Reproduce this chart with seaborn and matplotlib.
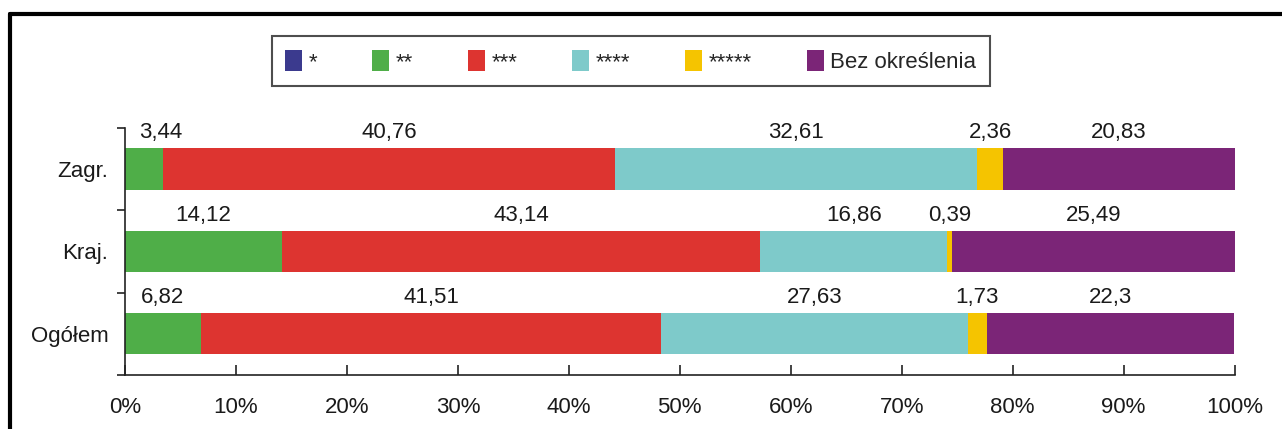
import matplotlib
matplotlib.use("Agg")
import matplotlib.pyplot as plt
import seaborn as sns
import pandas as pd
import numpy as np
from matplotlib.patches import Patch
from matplotlib.lines import Line2D

sns.set_style("white")
plt.rcParams['font.family'] = ['Liberation Sans', 'DejaVu Sans']

categories = ["Zagr.", "Kraj.", "Ogółem"]
series_names = ["*", "**", "***", "****", "*****", "Bez określenia"]
s1 = [0.0, 0.0, 0.0]
s2 = [3.44, 14.12, 6.82]
s3 = [40.76, 43.14, 41.51]
s4 = [32.61, 16.86, 27.63]
s5 = [2.36, 0.39, 1.73]
s6 = [20.83, 25.49, 22.3]
label_texts = [
    [None, "3,44", "40,76", "32,61", "2,36", "20,83"],
    [None, "14,12", "43,14", "16,86", "0,39", "25,49"],
    [None, "6,82", "41,51", "27,63", "1,73", "22,3"],
]
colors = ["#3B3A8E", "#4FAE48", "#DD3430", "#7ECACA", "#F5C400", "#7B2577"]

values = np.array([s1, s2, s3, s4, s5, s6])  # series x category
cum = np.cumsum(values, axis=0)

fig = plt.figure(figsize=(12.82, 4.29), dpi=100)
ax = fig.add_axes([0.0975, 0.126, 0.8655, 0.576])

# Draw cumulative bars from the longest down so shorter ones overlay
for k in range(len(series_names) - 1, -1, -1):
    df = pd.DataFrame({"cat": categories, "val": cum[k]})
    sns.barplot(data=df, y="cat", x="val", order=categories, color=colors[k],
                saturation=1, width=0.5, ax=ax, linewidth=0, orient="h")

# value labels above each segment (kept clear of the y axis)
starts = cum - values
for i, cat in enumerate(categories):
    for k in range(len(series_names)):
        t = label_texts[i][k]
        if t is None:
            continue
        xc = max(starts[k, i] + values[k, i] / 2, 3.2)
        ax.text(xc, i - 0.31, t, ha="center", va="bottom", fontsize=16, color="#1a1a1a")

ax.set_xlim(0, 100)
ax.set_ylim(2.5, -0.5)
ax.set_xticks(np.arange(0, 101, 10))
ax.set_xticklabels([f"{v}%" for v in range(0, 101, 10)], fontsize=16, color="#1a1a1a")
ax.tick_params(axis="x", bottom=True, direction="in", length=7, width=1.2,
               color="#222222", pad=16)
ax.set_yticks(range(len(categories)))
ax.set_yticklabels(categories, fontsize=16, color="#1a1a1a")
ax.tick_params(axis="y", which="major", left=True, length=0, pad=12)
ax.set_yticks([-0.5, 0.5, 1.5, 2.5], minor=True)
ax.tick_params(axis="y", which="minor", left=True, direction="out", length=6,
               width=1.2, color="#222222")
ax.set_xlabel("")
ax.set_ylabel("")
for side in ["top", "right"]:
    ax.spines[side].set_visible(False)
for side in ["left", "bottom"]:
    ax.spines[side].set_color("#222222")
    ax.spines[side].set_linewidth(1.2)

handles = [Patch(facecolor=c, edgecolor="none") for c in colors]
leg = fig.legend(handles, series_names, loc="center", ncol=6, mode="expand",
                 bbox_to_anchor=(0.212, 0.795, 0.56, 0.124), frameon=True,
                 fontsize=16, handlelength=0.75, handleheight=1.1, handletextpad=0.3,
                 borderaxespad=0, borderpad=0.6, fancybox=False, edgecolor="#222222")
leg.get_frame().set_linewidth(1.5)

# outer frame (top and left edges)
fig.add_artist(Line2D([0.008, 1.0], [0.967, 0.967], transform=fig.transFigure,
                      color="black", linewidth=3))
fig.add_artist(Line2D([0.008, 0.008], [0.0, 0.967], transform=fig.transFigure,
                      color="black", linewidth=3))

fig.savefig("out.png", dpi=100)
